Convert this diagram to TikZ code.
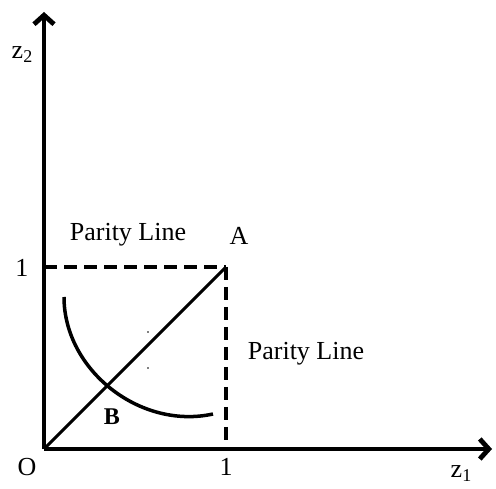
\documentclass[tikz,border=0pt]{standalone}
\usepackage{fontspec}
\setmainfont{Liberation Serif}
\usetikzlibrary{arrows.meta}
\begin{document}
\begin{tikzpicture}[x=1pt,y=-1pt,
  axis/.style={line width=4.8pt,-{Straight Barb[length=9pt,width=20pt,line width=4.8pt]}},
  parity/.style={line width=4pt,dash pattern=on 13pt off 7pt},
  lbl/.style={font=\fontsize{26}{28}\selectfont,inner sep=0pt}]
\useasboundingbox (0,0) rectangle (496,489);
\coordinate (O) at (44,449);
\coordinate (A) at (226,267);
\coordinate (Y) at (44,267);
\coordinate (X) at (226,449);
\coordinate (Ytop) at (44,12);
\coordinate (Xend) at (492,449);
\coordinate (C0) at (64,297);
\coordinate (C1) at (213,414);
% parity lines
\draw[parity] (Y) -- (A);
\draw[parity] (A) -- (X);
% diagonal
\draw[line width=3pt] (O) -- (A);
% curve
\draw[line width=3.5pt] (C0) .. controls (64,370) and (140,430) .. (C1);
% axes
\draw[axis] (O) -- (Ytop);
\draw[axis] (O) -- (Xend);
% tiny dots
\fill (148,332) circle (0.8pt);
\fill (148,368) circle (0.8pt);
% labels
\node[lbl] (zt) at (22,55) {z\raisebox{-4pt}{\fontsize{18}{18}\selectfont 2}};
\node[lbl] (zo) at (461,474) {z\raisebox{-4pt}{\fontsize{18}{18}\selectfont 1}};
\node[lbl] (lo) at (27,467) {O};
\node[lbl] (l1x) at (226,467) {1};
\node[lbl] (l1y) at (22,268) {1};
\node[lbl] (la) at (239,236) {A};
\node[lbl,font=\fontsize{24}{26}\selectfont\bfseries] (lb) at (112,417) {B};
\node[lbl] (p1) at (128,235) {Parity Line};
\node[lbl] (p2) at (306,354) {Parity Line};
\end{tikzpicture}
\end{document}
